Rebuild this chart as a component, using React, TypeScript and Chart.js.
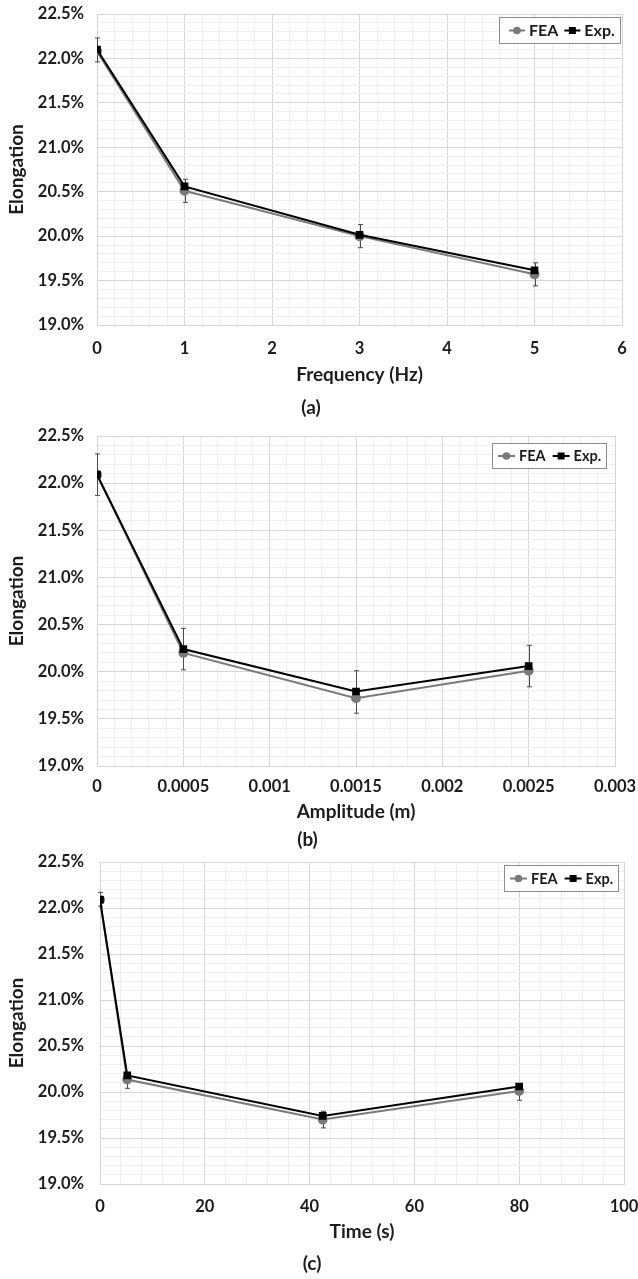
import React, { useEffect, useRef } from 'react';
import { Chart, registerables } from 'chart.js';
Chart.register(...registerables);

// ---------- Data ----------
const freqX = [0, 1, 3, 5];
const freqFEA = [22.08, 20.51, 20.0, 19.57];
const freqExp = [22.1, 20.56, 20.015, 19.615];
const freqErrHigh = [22.23, 20.64, 20.13, 19.7];
const freqErrLow = [21.96, 20.38, 19.87, 19.44];

const ampX = [0, 0.0005, 0.0015, 0.0025];
const ampFEA = [22.09, 20.2, 19.72, 20.01];
const ampExp = [22.09, 20.24, 19.79, 20.06];
const ampErrHigh = [22.31, 20.46, 20.01, 20.28];
const ampErrLow = [21.87, 20.02, 19.56, 19.84];

const timeX = [0, 5.2, 42.5, 80];
const timeFEA = [22.09, 20.135, 19.7, 20.01];
const timeExp = [22.09, 20.18, 19.74, 20.06];
const timeErrHigh = [22.17, 20.2, 19.79, 20.09];
const timeErrLow = [22.02, 20.04, 19.61, 19.91];

const seriesLabels = ['FEA', 'Exp.'];
const yAxisTitle = 'Elongation';
const yMin = 19.0;
const yMax = 22.5;

const FONT = 'Lato';
const TEXT = '#1c1c1c';
const FEA_COLOR = '#7a7a7a';
const EXP_COLOR = '#000000';

type LegendCfg = { font: number; right: number; top: number; h: number; padL: number; symW: number; gap: number; itemGap: number };

type PanelCfg = {
  height: number;
  xs: number[];
  fea: number[];
  exp: number[];
  hi: number[];
  lo: number[];
  xMin: number;
  xMax: number;
  xStep: number;
  xMajor: number;
  xTitle: string;
  caption: string;
  pad: { left: number; right: number; top: number; bottom: number };
  yWidth: number;
  yTickPad: number;
  yTitlePad: number;
  xHeight: number;
  xTickPad: number;
  captionPad: number;
  legend: LegendCfg;
};

const isMult = (v: number, m: number) => {
  const r = v / m;
  return Math.abs(r - Math.round(r)) < 1e-6;
};

function makeErrorBars(xs: number[], lo: number[], hi: number[]) {
  return {
    id: 'errorBars',
    beforeDatasetsDraw(chart: any) {
      const ctx = chart.ctx;
      const sx = chart.scales.x;
      const sy = chart.scales.y;
      ctx.save();
      ctx.strokeStyle = '#4a4a4a';
      ctx.lineWidth = 1;
      xs.forEach((v, i) => {
        const px = Math.round(sx.getPixelForValue(v)) + 0.5;
        const yt = sy.getPixelForValue(hi[i]);
        const yb = sy.getPixelForValue(lo[i]);
        ctx.beginPath();
        ctx.moveTo(px, yt);
        ctx.lineTo(px, yb);
        ctx.moveTo(px - 2.5, yt);
        ctx.lineTo(px + 2.5, yt);
        ctx.moveTo(px - 2.5, yb);
        ctx.lineTo(px + 2.5, yb);
        ctx.stroke();
      });
      ctx.restore();
    },
  };
}

function makeLegend(L: LegendCfg) {
  return {
    id: 'boxLegend',
    afterDatasetsDraw(chart: any) {
      const ctx = chart.ctx;
      const a = chart.chartArea;
      const ds = chart.data.datasets;
      ctx.save();
      ctx.font = `bold ${L.font}px ${FONT}`;
      const padR = 5;
      const widths = ds.map((d: any) => ctx.measureText(d.label).width);
      let total = L.padL + padR;
      widths.forEach((w: number, i: number) => {
        total += L.symW + L.gap + w + (i > 0 ? L.itemGap : 0);
      });
      total = Math.round(total);
      const right = Math.round(a.right - L.right);
      const left = right - total;
      const top = Math.round(a.top + L.top);
      ctx.fillStyle = '#ffffff';
      ctx.fillRect(left, top, total, L.h);
      ctx.strokeStyle = '#8c8c8c';
      ctx.lineWidth = 1;
      ctx.strokeRect(left + 0.5, top + 0.5, total, L.h);
      let x = left + L.padL;
      const cy = top + L.h / 2 + 0.5;
      ds.forEach((d: any, i: number) => {
        if (i > 0) x += L.itemGap;
        ctx.strokeStyle = d.borderColor;
        ctx.lineWidth = 2;
        ctx.beginPath();
        ctx.moveTo(x, cy);
        ctx.lineTo(x + L.symW, cy);
        ctx.stroke();
        ctx.fillStyle = d.pointBackgroundColor;
        if (d.pointStyle === 'circle') {
          ctx.beginPath();
          ctx.arc(x + L.symW / 2, cy, 3.8, 0, Math.PI * 2);
          ctx.fill();
        } else {
          ctx.fillRect(x + L.symW / 2 - 3.5, cy - 3.5, 7, 7);
        }
        x += L.symW + L.gap;
        ctx.fillStyle = TEXT;
        ctx.textBaseline = 'middle';
        ctx.textAlign = 'left';
        ctx.fillText(d.label, x, cy + 0.5);
        x += widths[i];
      });
      ctx.restore();
    },
  };
}

function buildConfig(c: PanelCfg): any {
  const mk = (arr: number[]) => c.xs.map((x, i) => ({ x, y: arr[i] }));
  const fmtX = (v: number) => parseFloat(v.toFixed(6)).toString();
  return {
    type: 'line',
    data: {
      datasets: [
        {
          label: seriesLabels[0],
          data: mk(c.fea),
          borderColor: FEA_COLOR,
          backgroundColor: FEA_COLOR,
          pointBackgroundColor: FEA_COLOR,
          pointBorderColor: FEA_COLOR,
          pointStyle: 'circle',
          pointRadius: 4,
          borderWidth: 2,
          order: 1,
        },
        {
          label: seriesLabels[1],
          data: mk(c.exp),
          borderColor: EXP_COLOR,
          backgroundColor: EXP_COLOR,
          pointBackgroundColor: EXP_COLOR,
          pointBorderColor: EXP_COLOR,
          pointStyle: 'rect',
          pointRadius: 4,
          borderWidth: 2,
          order: 0,
        },
      ],
    },
    options: {
      animation: false,
      responsive: false,
      devicePixelRatio: 1,
      layout: { padding: c.pad },
      plugins: {
        legend: { display: false },
        tooltip: { enabled: false },
        title: {
          display: true,
          position: 'bottom',
          text: c.caption,
          color: TEXT,
          font: { family: FONT, size: 19, weight: 'bold' },
          padding: { top: c.captionPad, bottom: 0 },
        },
      },
      scales: {
        x: {
          type: 'linear',
          min: c.xMin,
          max: c.xMax,
          border: { color: '#d4d4d4' },
          grid: {
            drawTicks: false,
            color: (ctx: any) =>
              ctx.tick && isMult(ctx.tick.value, c.xMajor) ? '#d6d6d6' : '#eeeeee',
          },
          afterFit: (s: any) => {
            s.height = c.xHeight;
            s.paddingLeft = 0;
            s.paddingRight = 0;
          },
          ticks: {
            stepSize: c.xStep,
            autoSkip: false,
            maxTicksLimit: 1000,
            maxRotation: 0,
            minRotation: 0,
            padding: c.xTickPad,
            color: TEXT,
            font: { family: FONT, size: 16.5, weight: 'bold' },
            callback: (v: any) => (isMult(v, c.xMajor) ? fmtX(v) : ''),
          },
          title: {
            display: true,
            text: c.xTitle,
            color: TEXT,
            font: { family: FONT, size: 19, weight: 'bold' },
            padding: { top: 0, bottom: 0 },
          },
        },
        y: {
          type: 'linear',
          min: yMin,
          max: yMax,
          border: { color: '#d4d4d4' },
          grid: {
            drawTicks: false,
            color: (ctx: any) =>
              ctx.tick && isMult(ctx.tick.value, 0.5) ? '#d6d6d6' : '#eeeeee',
          },
          afterFit: (s: any) => {
            s.width = c.yWidth;
            s.paddingTop = 0;
            s.paddingBottom = 0;
          },
          ticks: {
            stepSize: 0.1,
            autoSkip: false,
            maxTicksLimit: 1000,
            padding: c.yTickPad,
            color: TEXT,
            font: { family: FONT, size: 16.5, weight: 'bold' },
            callback: (v: any) => (isMult(v, 0.5) ? Number(v).toFixed(1) + '%' : ''),
          },
          title: {
            display: true,
            text: yAxisTitle,
            color: TEXT,
            font: { family: FONT, size: 19, weight: 'bold' },
            padding: { top: c.yTitlePad, bottom: 0 },
          },
        },
      },
    },
    plugins: [makeErrorBars(c.xs, c.lo, c.hi), makeLegend(c.legend)],
  };
}

const panels: PanelCfg[] = [
  {
    height: 420,
    xs: freqX, fea: freqFEA, exp: freqExp, hi: freqErrHigh, lo: freqErrLow,
    xMin: 0, xMax: 6, xStep: 0.2, xMajor: 1,
    xTitle: 'Frequency (Hz)', caption: '(a)',
    pad: { left: 0, right: 16, top: 14, bottom: 0.6 },
    yWidth: 97, yTickPad: 13, yTitlePad: 5.6,
    xHeight: 61.4, xTickPad: 14.1, captionPad: 10.2,
    legend: { font: 16, right: 2, top: 3, h: 26, padL: 10, symW: 16, gap: 4, itemGap: 6 },
  },
  {
    height: 432,
    xs: ampX, fea: ampFEA, exp: ampExp, hi: ampErrHigh, lo: ampErrLow,
    xMin: 0, xMax: 0.003, xStep: 0.0001, xMajor: 0.0005,
    xTitle: 'Amplitude (m)', caption: '(b)',
    pad: { left: 0, right: 23, top: 16, bottom: 0.6 },
    yWidth: 97, yTickPad: 13, yTitlePad: 5.6,
    xHeight: 57.4, xTickPad: 11.1, captionPad: 5.2,
    legend: { font: 14.5, right: 9, top: 7, h: 25, padL: 6, symW: 17, gap: 4, itemGap: 7 },
  },
  {
    height: 427,
    xs: timeX, fea: timeFEA, exp: timeExp, hi: timeErrHigh, lo: timeErrLow,
    xMin: 0, xMax: 100, xStep: 4, xMajor: 20,
    xTitle: 'Time (s)', caption: '(c)',
    pad: { left: 0, right: 14, top: 10, bottom: 3.6 },
    yWidth: 100, yTickPad: 16, yTitlePad: 5.6,
    xHeight: 59.4, xTickPad: 13.1, captionPad: 9.2,
    legend: { font: 14.5, right: 6, top: 3, h: 26, padL: 6, symW: 17, gap: 4, itemGap: 7 },
  },
];

function Panel({ cfg }: { cfg: PanelCfg }) {
  const ref = useRef<HTMLCanvasElement>(null);
  useEffect(() => {
    const chart = new Chart(ref.current as HTMLCanvasElement, buildConfig(cfg));
    return () => chart.destroy();
  }, [cfg]);
  return (
    <div style={{ width: 638, height: cfg.height }}>
      <canvas ref={ref} width={638} height={cfg.height} style={{ display: 'block' }} />
    </div>
  );
}

export default function App() {
  return (
    <div style={{ position: 'absolute', left: 0, top: 0, width: 638, background: '#fff' }}>
      {panels.map((p, i) => (
        <Panel key={i} cfg={p} />
      ))}
    </div>
  );
}
